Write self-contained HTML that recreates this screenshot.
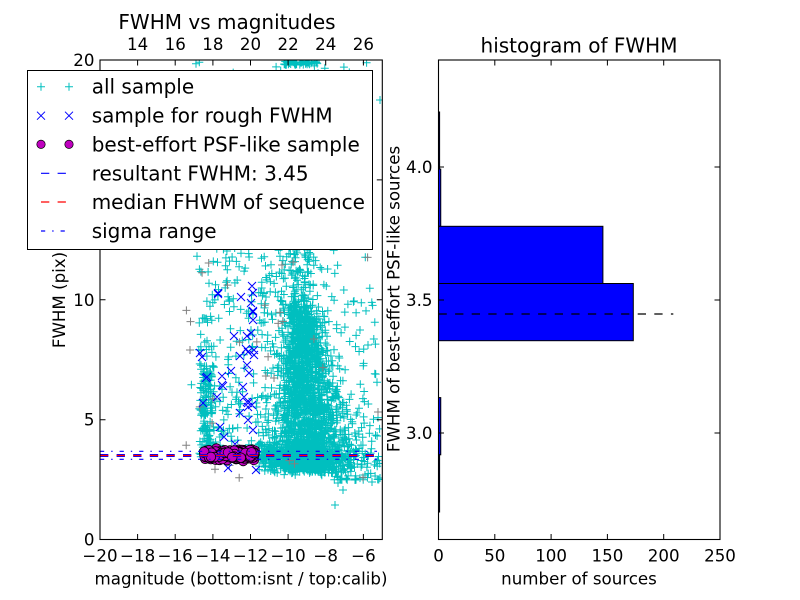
<!DOCTYPE html>
<html><head><meta charset="utf-8">
<style>
html,body{margin:0;padding:0;background:#fff;}
svg{display:block;}
text{font-family:"DejaVu Sans","Liberation Sans",sans-serif;fill:#000;}
</style></head><body>
<svg id="s" width="800" height="600" viewBox="0 0 800 600" xmlns="http://www.w3.org/2000/svg">
<defs><clipPath id="c1"><rect x="100" y="60" width="282.3" height="479.5"/></clipPath></defs>
<rect width="800" height="600" fill="#fff"/>

<g clip-path="url(#c1)">
  <path id="cyan" fill="none" stroke="#00bfbf" stroke-width="1"/>
  <path id="gray" fill="none" stroke="#808080" stroke-width="1"/>
  <path id="bx" fill="none" stroke="#0000ff" stroke-width="1"/>
  <g id="mag"></g>
  <line x1="100" y1="455.5" x2="377" y2="455.5" stroke="#0000ff" stroke-width="3" stroke-dasharray="8.3,8.3"/>
  <line x1="100" y1="455.5" x2="377" y2="455.5" stroke="#ff0000" stroke-width="1.2" stroke-dasharray="8.3,8.3"/>
  <line x1="100" y1="451.3" x2="377" y2="451.3" stroke="#0000ff" stroke-width="1.2" stroke-dasharray="4.2,7,1.4,7"/>
  <line x1="100" y1="459.3" x2="377" y2="459.3" stroke="#0000ff" stroke-width="1.2" stroke-dasharray="4.2,7,1.4,7"/>
</g>

<rect x="100" y="60" width="282.3" height="479.5" fill="none" stroke="#000" stroke-width="1.1"/>
<g stroke="#000" stroke-width="1">
  <path d="M137.6 539.5v-5.5M175.2 539.5v-5.5M212.9 539.5v-5.5M250.5 539.5v-5.5M288.1 539.5v-5.5M325.7 539.5v-5.5M363.4 539.5v-5.5"/>
  <path d="M137.6 60v5.5M175.2 60v5.5M212.9 60v5.5M250.5 60v5.5M288.1 60v5.5M325.7 60v5.5M363.4 60v5.5"/>
  <path d="M100 419.7h5.5M100 299.8h5.5M100 179.9h5.5M382.3 419.7h-5.5M382.3 299.8h-5.5M382.3 179.9h-5.5"/>
</g>
<g font-size="16.67" text-anchor="middle">
  <text x="100" y="561.5">−20</text>
  <text x="137.6" y="561.5">−18</text>
  <text x="175.2" y="561.5">−16</text>
  <text x="212.9" y="561.5">−14</text>
  <text x="250.5" y="561.5">−12</text>
  <text x="288.1" y="561.5">−10</text>
  <text x="325.7" y="561.5">−8</text>
  <text x="363.4" y="561.5">−6</text>
  <text x="137.6" y="50">14</text>
  <text x="175.2" y="50">16</text>
  <text x="212.9" y="50">18</text>
  <text x="250.5" y="50">20</text>
  <text x="288.1" y="50">22</text>
  <text x="325.7" y="50">24</text>
  <text x="363.4" y="50">26</text>
</g>
<g font-size="16.67" text-anchor="end">
  <text x="94.5" y="545.5">0</text>
  <text x="94.5" y="425.7">5</text>
  <text x="94.5" y="305.8">10</text>
  <text x="94.5" y="185.9">15</text>
  <text x="94.5" y="66">20</text>
</g>
<text x="227" y="29" font-size="20" text-anchor="middle">FWHM vs magnitudes</text>
<text transform="translate(65,300) rotate(-90)" font-size="16.67" text-anchor="middle">FWHM (pix)</text>
<text x="241" y="584.5" font-size="16.67" text-anchor="middle">magnitude (bottom:isnt / top:calib)</text>

<rect x="27.5" y="70.5" width="345" height="179" fill="#fff" stroke="#000" stroke-width="1"/>
<g fill="none" stroke-width="1">
  <path d="M37 86.7h8M41 82.7v8M65 86.7h8M69 82.7v8" stroke="#00bfbf"/>
  <path d="M37 111.7l8 8M45 111.7l-8 8M65 111.7l8 8M73 111.7l-8 8" stroke="#0000ff"/>
</g>
<circle cx="41" cy="144.3" r="4.2" fill="#bf00bf" stroke="#000" stroke-width="0.7"/>
<circle cx="69" cy="144.3" r="4.2" fill="#bf00bf" stroke="#000" stroke-width="0.7"/>
<line x1="41" y1="173.3" x2="69" y2="173.3" stroke="#0000ff" stroke-width="1.2" stroke-dasharray="8.3,8.3"/>
<line x1="41" y1="202" x2="69" y2="202" stroke="#ff0000" stroke-width="1.2" stroke-dasharray="8.3,8.3"/>
<line x1="41" y1="231" x2="69" y2="231" stroke="#0000ff" stroke-width="1.2" stroke-dasharray="4.2,7,1.4,7"/>
<g font-size="20">
  <text x="91.7" y="93.7">all sample</text>
  <text x="91.7" y="122.7">sample for rough FWHM</text>
  <text x="91.7" y="151.3">best-effort PSF-like sample</text>
  <text x="91.7" y="180.3">resultant FWHM: 3.45</text>
  <text x="91.7" y="209">median FHWM of sequence</text>
  <text x="91.7" y="238">sigma range</text>
</g>

<g stroke="#000" stroke-width="1">
  <rect x="438.5" y="112" width="1.1" height="57.1" fill="#0000ff"/>
  <rect x="438.5" y="169.1" width="2.25" height="57.2" fill="#0000ff"/>
  <rect x="438.5" y="226.3" width="164.4" height="57.2" fill="#0000ff"/>
  <rect x="438.5" y="283.5" width="194.8" height="57.2" fill="#0000ff"/>
  <rect x="438.5" y="397.6" width="2.25" height="57.2" fill="#0000ff"/>
  <rect x="438.5" y="454.8" width="1.1" height="57.2" fill="#0000ff"/>
</g>
<line x1="438.5" y1="314" x2="673.3" y2="314" stroke="#000" stroke-width="1.2" stroke-dasharray="8.3,8.3"/>
<rect x="438.5" y="60" width="281.5" height="479.5" fill="none" stroke="#000" stroke-width="1.1"/>
<g stroke="#000" stroke-width="1">
  <path d="M494.8 539.5v-5.5M551.1 539.5v-5.5M607.4 539.5v-5.5M663.7 539.5v-5.5"/>
  <path d="M494.8 60v5.5M551.1 60v5.5M607.4 60v5.5M663.7 60v5.5"/>
  <path d="M438.5 433h5.5M438.5 300h5.5M438.5 167h5.5M720 433h-5.5M720 300h-5.5M720 167h-5.5"/>
</g>
<g font-size="16.67" text-anchor="middle">
  <text x="438.5" y="561.5">0</text>
  <text x="494.8" y="561.5">50</text>
  <text x="551.1" y="561.5">100</text>
  <text x="607.4" y="561.5">150</text>
  <text x="663.7" y="561.5">200</text>
  <text x="720" y="561.5">250</text>
</g>
<g font-size="16.67" text-anchor="end">
  <text x="432.5" y="173">4.0</text>
  <text x="432.5" y="306">3.5</text>
  <text x="432.5" y="439">3.0</text>
</g>
<text x="579" y="52.5" font-size="20" text-anchor="middle">histogram of FWHM</text>
<text transform="translate(399.5,299) rotate(-90)" font-size="16.67" text-anchor="middle">FWHM of best-effort PSF-like sources</text>
<text x="579" y="584.5" font-size="16.67" text-anchor="middle">number of sources</text>
</svg>

<script>
(function(){
function mulberry32(a){return function(){a|=0;a=a+0x6D2B79F5|0;var t=Math.imul(a^a>>>15,1|a);t=t+Math.imul(t^t>>>7,61|t)^t;return((t^t>>>14)>>>0)/4294967296;}}
var R=mulberry32(20240611);
function G(){var u=R()||1e-9,v=R();return Math.sqrt(-2*Math.log(u))*Math.cos(2*Math.PI*v);}
function f(n){return n.toFixed(1);}
function plus(x,y){return 'M'+f(x-4)+' '+f(y)+'h8M'+f(x)+' '+f(y-4)+'v8';}
function cross(x,y){return 'M'+f(x-4)+' '+f(y-4)+'l8 8M'+f(x+4)+' '+f(y-4)+'l-8 8';}
var c=[],i,x,y,t;
for(i=0;i<1800;i++){t=Math.pow(R(),0.75);y=305+168*t;x=304+6*t+G()*(7+14*t);c.push(plus(x,y));}
for(i=0;i<480;i++){y=457+G()*7;x=298+G()*24;if(x<258)x=258+R()*20;if(y>480)y=465+R()*13;c.push(plus(x,y));}
for(i=0;i<110;i++){x=330+50*R();y=405+75*Math.pow(R(),0.7);c.push(plus(x,y));}
for(i=0;i<55;i++){x=320+58*R();y=300+120*R();c.push(plus(x,y));}
for(i=0;i<240;i++){x=198+92*R();y=280+180*R();c.push(plus(x,y));}
for(i=0;i<70;i++){x=195+100*R();y=170+110*R();c.push(plus(x,y));}
for(i=0;i<140;i++){x=207+G()*4;y=365+90*R();c.push(plus(x,y));}
for(i=0;i<200;i++){x=298+G()*10;y=320-140*Math.pow(R(),1.5);c.push(plus(x,y));}
for(i=0;i<130;i++){x=195+175*R();y=62+240*R();c.push(plus(x,y));}
for(i=0;i<45;i++){x=284+34*R();y=61+4*R();c.push(plus(x,y));}
[[338,483],[343,490],[335,505],[372,482],[380,478],[355,480],[365,475],[380,100],[378,412],[360,330],[368,345]].forEach(function(p){c.push(plus(p[0],p[1]));});
document.getElementById('cyan').setAttribute('d',c.join(''));
var g=[];
for(i=0;i<28;i++){x=185+190*R();y=250+230*R();g.push(plus(x,y));}
[[190,350],[282,265],[378,412]].forEach(function(p){g.push(plus(p[0],p[1]));});
document.getElementById('gray').setAttribute('d',g.join(''));
var bl=[[218,293],[241,297],[252,286],[253,293],[251,303],[253,312],[253,320],[247,336],[234,336],[246,349],[248,352],[254,350],[254,355],[240,356],[247,365],[249,373],[231,371],[222,376],[200,353],[202,357],[207,377],[203,403],[217,397],[222,385],[243,387],[244,397],[247,402],[248,407],[240,413],[248,420],[253,430],[220,427],[224,437],[228,468],[256,470],[235,444],[251,333],[218,294],[253,311],[206,378],[223,386],[248,403],[252,405]];
var b=[];bl.forEach(function(p){b.push(cross(p[0],p[1]));});
document.getElementById('bx').setAttribute('d',b.join(''));
var m=document.getElementById('mag'),ns='http://www.w3.org/2000/svg';
for(i=0;i<260;i++){var e=document.createElementNS(ns,'circle');x=204+51*R();y=455+G()*2.2;
e.setAttribute('cx',f(x));e.setAttribute('cy',f(y));e.setAttribute('r','4.8');e.setAttribute('fill','#bf00bf');e.setAttribute('stroke','#000');e.setAttribute('stroke-width','0.8');m.appendChild(e);}
})();
</script>
</body></html>
